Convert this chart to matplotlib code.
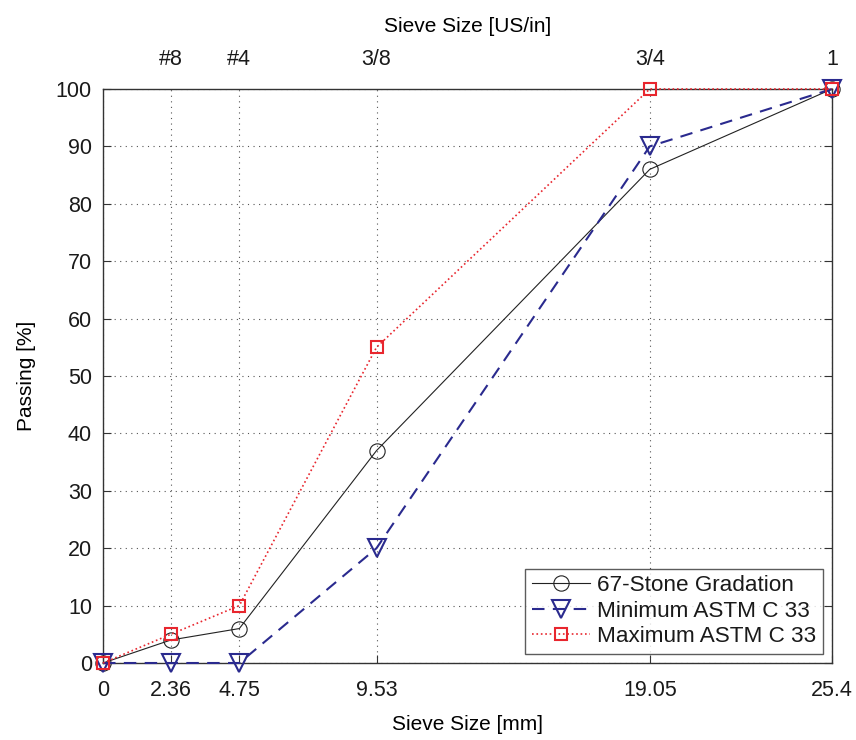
import matplotlib
matplotlib.use("Agg")
import matplotlib.pyplot as plt

plt.rcParams['font.family'] = ['Liberation Sans', 'DejaVu Sans']
plt.rcParams['text.color'] = '#1a1a1a'

sieve_mm = [0, 2.36, 4.75, 9.53, 19.05, 25.4]
sieve_mm_labels = ["0", "2.36", "4.75", "9.53", "19.05", "25.4"]
sieve_us = [2.36, 4.75, 9.53, 19.05, 25.4]
sieve_us_labels = ["#8", "#4", "3/8", "3/4", "1"]
gradation = [0, 4, 6, 37, 86, 100]
minimum = [0, 0, 0, 20, 90, 100]
maximum = [0, 5, 10, 55, 100, 100]

fig = plt.figure(figsize=(8.56, 7.40), dpi=100)
ax = fig.add_axes([103/856, 77/740, (832-103)/856, (663-89)/740])

axc = '#333333'
ax.plot(sieve_mm, gradation, '-', color='#222222', lw=0.8, marker='o', ms=11,
        mfc='none', mec='#222222', mew=0.8, label='67-Stone Gradation', zorder=3, clip_on=False)
ax.plot(sieve_mm, minimum, '--', color='#2a2a8e', lw=1.5, dashes=(6, 4), marker='v', ms=13,
        mfc='none', mec='#2a2a8e', mew=1.5, label='Minimum ASTM C 33', zorder=3, clip_on=False)
ax.plot(sieve_mm, maximum, ':', color='#e8262e', lw=1.2, marker='s', ms=9,
        mfc='none', mec='#e8262e', mew=1.5, label='Maximum ASTM C 33', zorder=3, clip_on=False)

ax.set_xlim(0, 25.4)
ax.set_ylim(0, 100)
ax.set_xticks(sieve_mm)
ax.set_xticklabels(sieve_mm_labels)
ax.set_yticks(range(0, 101, 10))
ax.grid(True, linestyle=(0, (1, 4)), color='#555555', lw=0.8)
ax.tick_params(direction='in', length=6, color=axc, labelsize=15.5, pad=12,
               labelcolor='#1a1a1a', top=False, right=True)
ax.tick_params(axis='y', pad=8)
for s in ax.spines.values():
    s.set_color(axc)
    s.set_linewidth(1.0)
ax.set_xlabel('Sieve Size [mm]', fontsize=15, labelpad=10)
ax.set_ylabel('Passing [%]', fontsize=15, labelpad=14)

ax2 = ax.twiny()
ax2.set_xlim(0, 25.4)
ax2.set_xticks(sieve_us)
ax2.set_xticklabels(sieve_us_labels)
ax2.tick_params(direction='in', length=0, labelsize=15.5, pad=14, labelcolor='#1a1a1a')
for s in ax2.spines.values():
    s.set_visible(False)
ax2.set_xlabel('Sieve Size [US/in]', fontsize=15, labelpad=12)

leg = ax.legend(loc='lower right', fontsize=16.2, frameon=True, fancybox=False,
                edgecolor=axc, borderaxespad=0.4, handlelength=2.6,
                borderpad=0.3, labelspacing=0.2, handletextpad=0.3)
leg.get_frame().set_linewidth(1.0)

fig.savefig('out.png', dpi=100)
